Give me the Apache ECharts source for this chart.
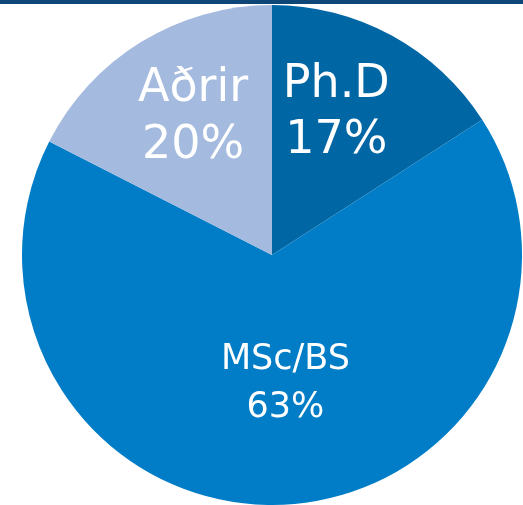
<!DOCTYPE html>
<html>
<head>
<meta charset="utf-8">
<script src="https://cdn.jsdelivr.net/npm/echarts@6/dist/echarts.min.js"></script>
<style>html,body{margin:0;padding:0;background:#fff}#c{width:523px;height:505px}</style>
</head>
<body>
<div id="c"></div>
<script>
// Data (slice sizes) and the printed percentages
var categories = ['Ph.D', 'MSc/BS', 'Aðrir'];
var values = [15.9, 66.6, 17.5];
var pctLabels = ['17%', '63%', '20%'];
var colors = ['#0066A4', '#007DC6', '#A4BADE'];

var fontSizes = [46, 35, 46];
var lineHeights = [56, 48, 57];
var offsets = [[3, -30], [7, 1], [-12, -28]];

var chart = echarts.init(document.getElementById('c'), null, {renderer: 'canvas'});
chart.setOption({
  animation: false,
  graphic: [{
    type: 'rect', left: 0, top: 0, z: 10,
    shape: {width: 523, height: 4},
    style: {fill: '#0E4677'}
  }],
  series: [{
    type: 'pie',
    center: [272, 255],
    radius: [0, 250],
    startAngle: 90,
    clockwise: true,
    avoidLabelOverlap: false,
    label: {
      show: true,
      position: 'inside',
      color: '#ffffff',
      fontFamily: 'DejaVu Sans',
      align: 'center'
    },
    labelLine: {show: false},
    emphasis: {disabled: true},
    labelLayout: function (p) {
      var o = offsets[p.dataIndex];
      return {dx: o[0], dy: o[1]};
    },
    data: categories.map(function (c, i) {
      return {
        name: c,
        value: values[i],
        itemStyle: {color: colors[i], borderWidth: 0},
        label: {
          formatter: c + '\n' + pctLabels[i],
          fontSize: fontSizes[i],
          lineHeight: lineHeights[i]
        }
      };
    })
  }]
});
</script>
</body>
</html>
